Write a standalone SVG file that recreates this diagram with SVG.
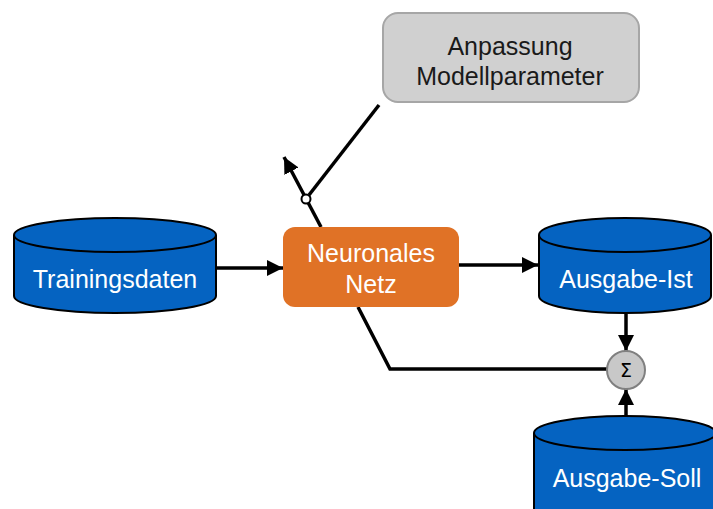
<svg xmlns="http://www.w3.org/2000/svg" width="713" height="509" viewBox="0 0 713 509">
<style>
.cyl{fill:#0563c1;stroke:#000;stroke-width:2}
.lbl{font-family:"Liberation Sans",Arial,sans-serif;font-size:25px;text-anchor:middle}
.w{fill:#fff}
.k{fill:#1a1a1a}
.ln{fill:none;stroke:#000;stroke-width:3.5}
</style>
<defs>
<marker id="ah" markerUnits="userSpaceOnUse" markerWidth="17" markerHeight="17" refX="16" refY="8" orient="auto">
<path d="M0,0 L16,8 L0,16 Z" fill="#000"/>
</marker>
</defs>
<rect width="713" height="509" fill="#fff"/>
<g id="connectors">
<line class="ln" x1="216" y1="268" x2="283" y2="268" marker-end="url(#ah)"/>
<line class="ln" x1="459" y1="265" x2="538" y2="265" marker-end="url(#ah)"/>
<polyline class="ln" points="358,307 390,369 607,369"/>
<line class="ln" x1="626" y1="314" x2="626" y2="351" marker-end="url(#ah)"/>
<line class="ln" x1="626" y1="416" x2="626" y2="389" marker-end="url(#ah)"/>
<line class="ln" x1="321" y1="227" x2="284" y2="157" marker-end="url(#ah)"/>
<line class="ln" x1="379" y1="105" x2="309" y2="195"/>
<circle cx="306" cy="199" r="4.5" fill="#fff" stroke="#000" stroke-width="2"/>
</g>
<g id="anpassung">
<rect x="383" y="13" width="256" height="89" rx="15" fill="#d0d0d0" stroke="#a6a6a6" stroke-width="2"/>
<text class="lbl k" x="510" y="55">Anpassung</text>
<text class="lbl k" x="510" y="85">Modellparameter</text>
</g>
<g id="trainingsdaten">
<path class="cyl" d="M14,235 L14,296 A101,17 0 0 0 216,296 L216,235"/>
<ellipse class="cyl" cx="115" cy="235" rx="101" ry="17"/>
<text class="lbl w" x="115" y="288">Trainingsdaten</text>
</g>
<g id="netz">
<rect x="283" y="227" width="176" height="80" rx="12" fill="#e07226"/>
<text class="lbl w" x="371" y="262">Neuronales</text>
<text class="lbl w" x="371" y="293">Netz</text>
</g>
<g id="ausgabe-ist">
<path class="cyl" d="M539,235 L539,296 A86,17 0 0 0 711,296 L711,235"/>
<ellipse class="cyl" cx="625" cy="235" rx="86" ry="17"/>
<text class="lbl w" x="626" y="288">Ausgabe-Ist</text>
</g>
<g id="sigma">
<circle cx="626" cy="370" r="19" fill="#c8c8c8" stroke="#808080" stroke-width="2"/>
<text x="626" y="377" font-family="'DejaVu Sans',sans-serif" font-size="19" text-anchor="middle" fill="#000">Σ</text>
</g>
<g id="ausgabe-soll">
<path class="cyl" d="M534,433 L534,520 L716,520 L716,433"/>
<ellipse class="cyl" cx="625" cy="433" rx="91" ry="17"/>
<text class="lbl w" x="627" y="487">Ausgabe-Soll</text>
</g>
</svg>
